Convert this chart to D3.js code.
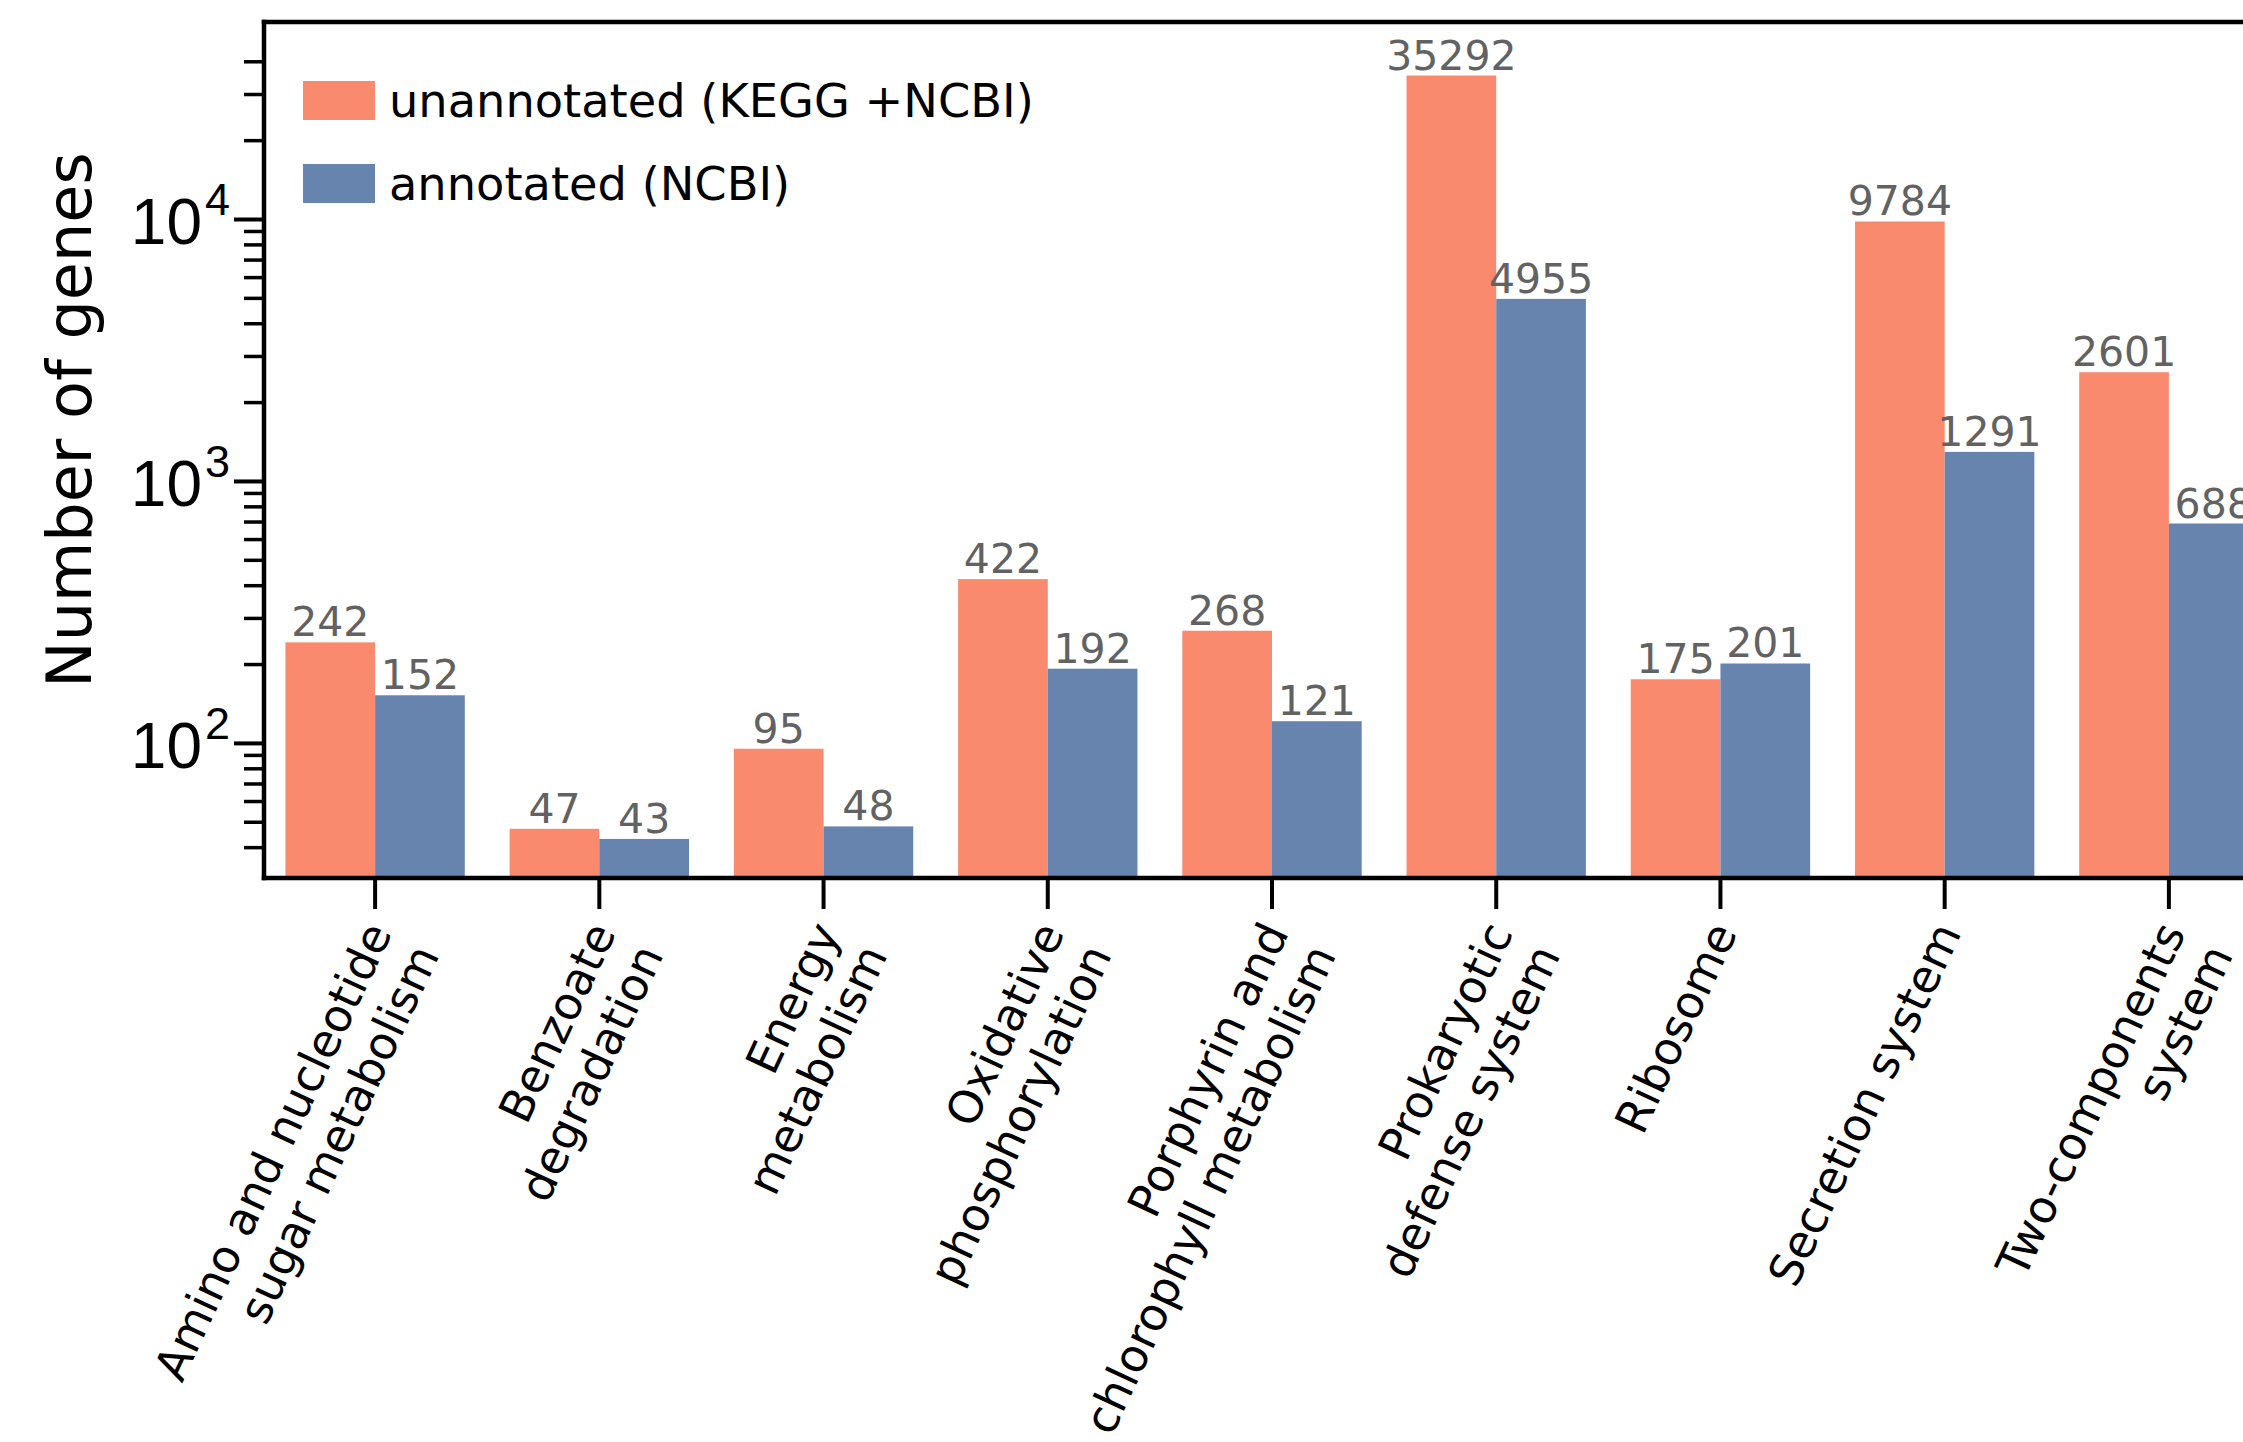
<!DOCTYPE html>
<html>
<head>
<meta charset="utf-8">
<script src="https://cdn.jsdelivr.net/npm/d3@7"></script>
<style>
  html, body { margin: 0; padding: 0; background: #fff; overflow: hidden; }
  svg { display: block; font-family: "DejaVu Sans", sans-serif; }
</style>
</head>
<body>
<svg id="chart" width="2243" height="1442"></svg>
<script>
// KEGG pathway categories (multi-line tick labels)
const categories = [
  "Amino and nucleotide\nsugar metabolism",
  "Benzoate\ndegradation",
  "Energy\nmetabolism",
  "Oxidative\nphosphorylation",
  "Porphyrin and\nchlorophyll metabolism",
  "Prokaryotic\ndefense system",
  "Ribosome",
  "Secretion system",
  "Two-components\nsystem"
];
const seriesNames = ["unannotated (KEGG +NCBI)", "annotated (NCBI)"];
const unannotated = [242, 47, 95, 422, 268, 35292, 175, 9784, 2601];
const annotated   = [152, 43, 48, 192, 121, 4955, 201, 1291, 688];
const majorTicks  = [100, 1000, 10000];
const yDomain     = [30.5, 56500];

const colors = ["#F98A6E", "#6784AE"];
const series = [unannotated, annotated];

const svg = d3.select("#chart");
const W = 2243;
const plot = { left: 263, right: 2281, top: 22, bottom: 878 };

// Scales
const x0 = d3.scaleBand()
  .domain(categories)
  .range([plot.left, plot.right])
  .paddingInner(0.2)
  .paddingOuter(0.1);
const x1 = d3.scaleBand()
  .domain(seriesNames)
  .range([0, x0.bandwidth()]);
const y = d3.scaleLog()
  .domain(yDomain)
  .range([plot.bottom, plot.top]);

// Bars
const groups = svg.append("g").selectAll("g")
  .data(categories)
  .join("g")
  .attr("transform", d => `translate(${x0(d)},0)`);

seriesNames.forEach((name, si) => {
  groups.append("rect")
    .attr("x", x1(name))
    .attr("width", x1.bandwidth())
    .attr("y", (d, i) => y(series[si][i]))
    .attr("height", (d, i) => plot.bottom - y(series[si][i]))
    .attr("fill", colors[si]);

  groups.append("text")
    .attr("x", x1(name) + x1.bandwidth() / 2)
    .attr("y", (d, i) => y(series[si][i]) - 6)
    .attr("text-anchor", "middle")
    .attr("font-size", 41)
    .attr("fill", "#626262")
    .text((d, i) => series[si][i]);
});

// Y axis: minor ticks (2..9 × 10^k, up to 4 × 10^4)
const minorTicks = y.ticks().filter(v => !majorTicks.includes(v) && v < 45000);
const yMinor = svg.append("g")
  .attr("transform", `translate(${plot.left + 1},0)`)
  .call(d3.axisLeft(y).tickValues(minorTicks).tickSize(20).tickSizeOuter(0).tickFormat(""));
yMinor.select(".domain").remove();
yMinor.selectAll(".tick line").attr("stroke", "#000").attr("stroke-width", 3.5);

// Y axis: major ticks with power-of-ten labels
const yMajor = svg.append("g")
  .attr("transform", `translate(${plot.left + 1},0)`)
  .call(d3.axisLeft(y).tickValues(majorTicks).tickSize(30).tickSizeOuter(0).tickPadding(4).tickFormat(""));
yMajor.select(".domain").remove();
yMajor.selectAll(".tick line").attr("stroke", "#000").attr("stroke-width", 4);
yMajor.selectAll(".tick text")
  .attr("font-size", 64)
  .attr("fill", "#000")
  .attr("dy", "0.38em")
  .each(function(d) {
    const t = d3.select(this);
    t.text("10");
    t.append("tspan")
      .attr("font-size", 45)
      .attr("dx", 3)
      .attr("dy", -29)
      .text(Math.round(Math.log10(d)));
  });

// X axis ticks
const xAxis = svg.append("g")
  .attr("transform", `translate(0,${plot.bottom})`)
  .call(d3.axisBottom(x0).tickSize(31).tickSizeOuter(0).tickFormat(""));
xAxis.select(".domain").remove();
xAxis.selectAll(".tick line").attr("stroke", "#000").attr("stroke-width", 4);

// Rotated, right-aligned multi-line category labels
const angle = -65;
const xLabelSize = 45.5;
const labels = svg.append("g")
  .selectAll("g")
  .data(categories)
  .join("g")
  .attr("transform", d => `translate(${x0(d) + x0.bandwidth() / 2 - 14},${plot.bottom + 40}) rotate(${angle})`);
labels.append("text")
  .attr("text-anchor", "end")
  .attr("font-size", xLabelSize)
  .attr("fill", "#000")
  .each(function(d) {
    const t = d3.select(this);
    d.split("\n").forEach((line, li) => {
      t.append("tspan")
        .attr("x", 0)
        .attr("dy", li === 0 ? "0.76em" : "1.15em")
        .text(line);
    });
  });

// Spines
const spines = svg.append("g").attr("stroke", "#000").attr("stroke-width", 4.5).attr("stroke-linecap", "square");
spines.append("line").attr("x1", plot.left + 1).attr("x2", plot.left + 1).attr("y1", plot.top).attr("y2", plot.bottom);
spines.append("line").attr("x1", plot.left + 1).attr("x2", W + 10).attr("y1", plot.bottom).attr("y2", plot.bottom);
spines.append("line").attr("x1", plot.left + 1).attr("x2", W + 10).attr("y1", plot.top).attr("y2", plot.top);

// Y axis title
svg.append("text")
  .attr("transform", `translate(91,420) rotate(-90)`)
  .attr("text-anchor", "middle")
  .attr("font-size", 62)
  .attr("fill", "#000")
  .text("Number of genes");

// Legend
const legend = svg.append("g").attr("transform", "translate(303,81)");
seriesNames.forEach((name, i) => {
  const row = legend.append("g").attr("transform", `translate(0,${i * 83})`);
  row.append("rect").attr("width", 72).attr("height", 39).attr("fill", colors[i]);
  row.append("text")
    .attr("x", 86)
    .attr("y", 36)
    .attr("font-size", 46.3)
    .attr("fill", "#000")
    .text(name);
});
</script>
</body>
</html>
